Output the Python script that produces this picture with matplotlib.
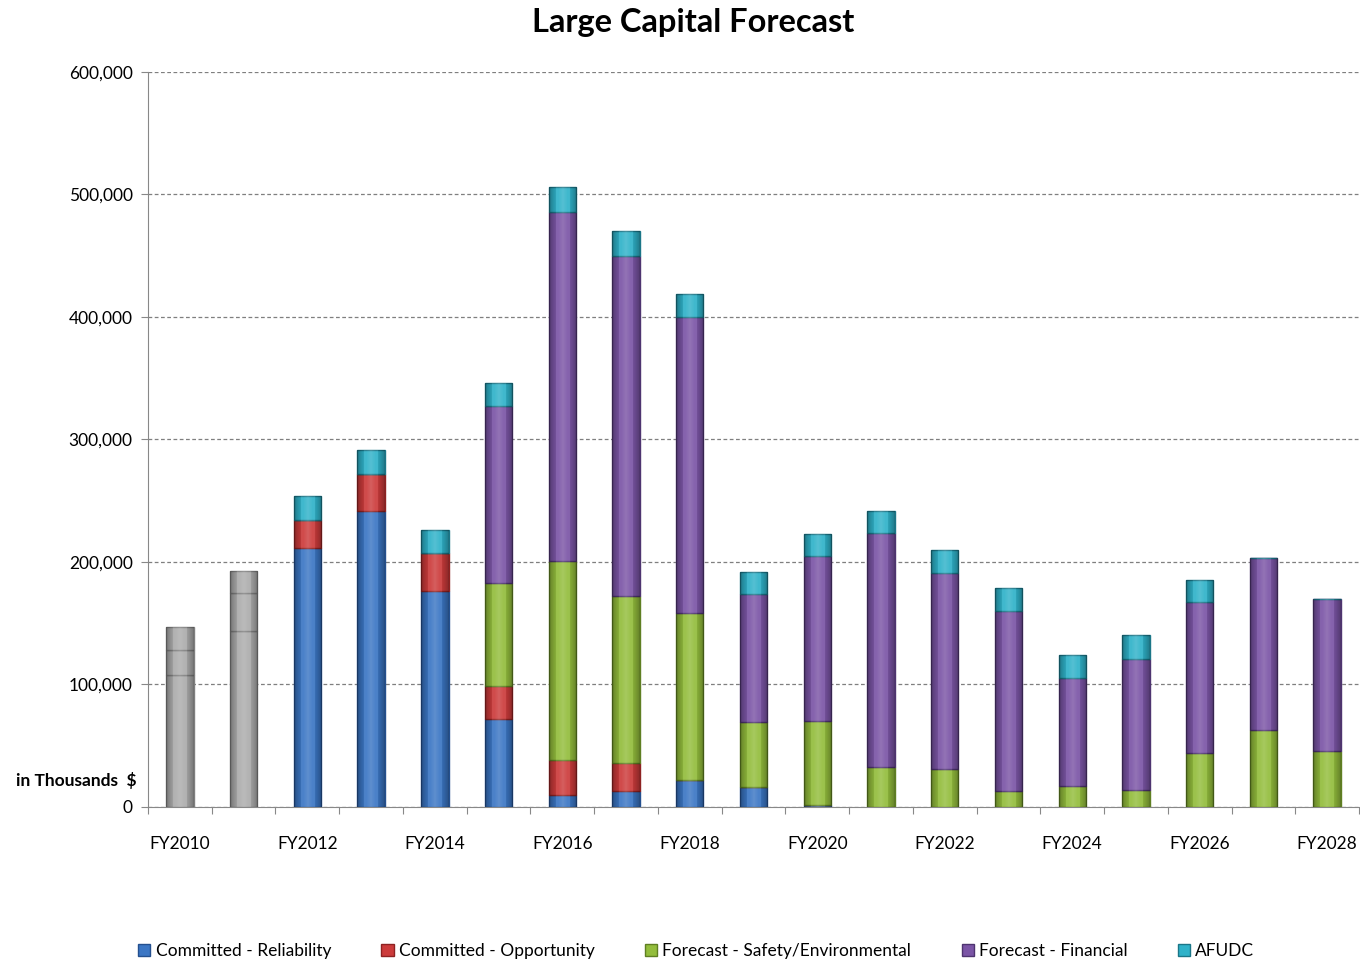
import numpy as np
import matplotlib.pyplot as plt
from matplotlib.ticker import FuncFormatter, MultipleLocator

plt.rcParams['font.family'] = ['Lato', 'DejaVu Sans']

years = ['FY%d' % y for y in range(2010, 2029)]

# thousands of dollars
reliability = [0, 0, 211, 242, 176, 72, 10, 13, 22, 16, 2, 0, 0, 0, 0, 0, 0, 0, 0]
opportunity = [0, 0, 23, 30, 31, 27, 28, 23, 0, 0, 0, 0, 0, 0, 0, 0, 0, 0, 0]
safety_env = [0, 0, 0, 0, 0, 84, 163, 136, 136, 53, 68, 33, 31, 13, 17, 14, 44, 63, 46]
financial = [0, 0, 0, 0, 0, 144, 285, 278, 242, 105, 135, 191, 160, 147, 88, 107, 123, 140, 124]
afudc = [0, 0, 20, 19, 19, 19, 20, 20, 19, 18, 18, 18, 19, 19, 19, 19, 18, 0, 0]

# actual spend for the first two years (shown in grey)
actual_years = ['FY2010', 'FY2011']
actual_parts = [[108, 20, 19], [144, 31, 18]]

series = [
    ('Committed - Reliability', reliability, '#3b76c4', '#24508f'),
    ('Committed - Opportunity', opportunity, '#cc3b3b', '#8e2222'),
    ('Forecast - Safety/Environmental', safety_env, '#93bd3c', '#5f7f22'),
    ('Forecast - Financial', financial, '#7b55a6', '#4e3470'),
    ('AFUDC', afudc, '#2fb2c9', '#1b7688'),
]

fig = plt.figure(figsize=(13.6, 9.63), dpi=100)
ax = fig.add_axes([0.1088, 0.162, 0.8905, 0.7633])

x = np.arange(len(years))
width = 0.43
bottom = np.zeros(len(years))
patches = []

for label, vals, color, edge in series:
    vals = np.array(vals, dtype=float) * 1000
    bars = ax.bar(x, vals, width, bottom=bottom, color=color, edgecolor=edge,
                  linewidth=1.0, label=label, zorder=3)
    patches += [p for p in bars if p.get_height() > 0]
    bottom += vals

for name, parts in zip(actual_years, actual_parts):
    i = years.index(name)
    b = 0
    for p in parts:
        bars = ax.bar(i, p * 1000, width, bottom=b, color='#acacac', edgecolor='#7f7f7f',
                      linewidth=1.0, zorder=3)
        patches += list(bars)
        b += p * 1000

# cylinder-like shading: dark edges, light centre
t = np.linspace(-1, 1, 64)
shade = np.zeros((1, 64, 4))
light = np.clip(1 - np.abs(t) * 1.6, 0, 1)
dark = np.clip(np.abs(t) * 1.4 - 0.5, 0, 1)
shade[0, :, :3] = (light > dark)[:, None].astype(float)
shade[0, :, 3] = light * 0.18 + dark * 0.35
for p in patches:
    x0, y0 = p.get_x(), p.get_y()
    im = ax.imshow(shade, extent=[x0, x0 + p.get_width(), y0, y0 + p.get_height()],
                   aspect='auto', interpolation='bilinear', zorder=3.5)
    im.set_clip_path(p)

ax.set_xlim(-0.5, len(years) - 0.5)
ax.set_ylim(0, 600000)
ax.yaxis.set_major_locator(MultipleLocator(100000))
ax.yaxis.set_major_formatter(FuncFormatter(lambda v, p: '{:,.0f}'.format(v)))
ax.grid(axis='y', color='#7f7f7f', linestyle=(0, (3, 2)), linewidth=0.9, zorder=0)

# category boundaries carry the tick marks, every other year gets a label
ax.set_xticks(np.arange(len(years) + 1) - 0.5)
ax.set_xticklabels([])
ax.set_xticks(x[::2], minor=True)
ax.set_xticklabels(years[::2], minor=True)
ax.tick_params(axis='x', which='major', length=5, color='#888888', direction='out')
ax.tick_params(axis='x', which='minor', length=0, pad=21, labelsize=12.5)
ax.tick_params(axis='y', length=5, color='#888888', labelsize=12.5, pad=6)

for side in ['top', 'right']:
    ax.spines[side].set_visible(False)
for side in ['left', 'bottom']:
    ax.spines[side].set_color('#888888')

fig.text(0.51, 0.977, 'Large Capital Forecast', ha='center', va='center',
         fontsize=23.5, fontweight='bold')
fig.text(0.056, 0.19, 'in Thousands  $', ha='center', va='center',
         fontsize=12.5, fontweight='bold')

fig.legend(loc='center', bbox_to_anchor=(0.512, 0.0125), ncol=5, frameon=False,
           fontsize=12.5, handlelength=0.7, handleheight=0.7, handletextpad=0.3,
           columnspacing=2.9)

fig.savefig('out.png', dpi=100)
